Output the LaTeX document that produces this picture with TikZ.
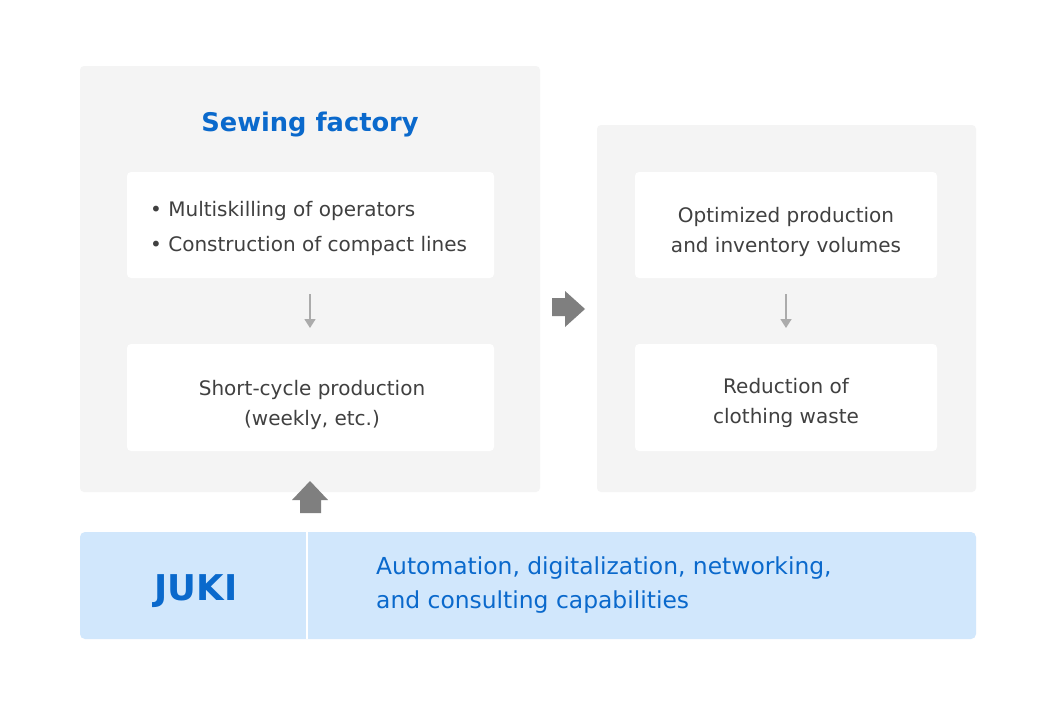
\documentclass[tikz,border=0pt]{standalone}
\usepackage{fontspec}
\setmainfont{DejaVu Sans}
\usetikzlibrary{arrows.meta}
\definecolor{panelgrey}{HTML}{F4F4F4}
\definecolor{txtgrey}{HTML}{404040}
\definecolor{jblue}{HTML}{0A69CC}
\definecolor{lblue}{HTML}{D1E7FC}
\definecolor{agrey}{HTML}{7F7F7F}
\definecolor{lgrey}{HTML}{ABABAB}
\begin{document}
\begin{tikzpicture}[x=1pt,y=-1pt,
  panel/.style={fill=panelgrey,rounded corners=4pt},
  wbox/.style={fill=white,rounded corners=4pt},
  body/.style={text=txtgrey,font=\fontsize{20}{30}\selectfont,align=center,anchor=base,inner sep=0pt},
  thinarr/.style={draw=lgrey,line width=1.6pt,-{Triangle[length=9pt,width=11pt]}},
]
\useasboundingbox (0,0) rectangle (1056,704);
\fill[white] (0,0) rectangle (1056,704);
% panels
\fill[panel] (80,66) rectangle (540,492);
\fill[panel] (597,125) rectangle (976,492);
% white boxes
\fill[wbox] (127,172) rectangle (494,278);
\fill[wbox] (127,344) rectangle (494,451);
\fill[wbox] (635,172) rectangle (937,278);
\fill[wbox] (635,344) rectangle (937,451);
% JUKI bar
\fill[lblue,rounded corners=5pt] (80,532) rectangle (976,639);
\draw[white,line width=2pt] (307,532) -- (307,639);
% texts
\node[text=jblue,font=\fontsize{25.7}{30}\selectfont\bfseries,anchor=base,inner sep=0pt] (title) at (310,131) {Sewing factory};
\node[body,anchor=base west,align=left] (b1) at (150,216) {\textbullet\ Multiskilling of operators};
\node[body,anchor=base west,align=left] (b2) at (150,251) {\textbullet\ Construction of compact lines};
\node[body] (short) at (312,425) {Short-cycle production\\(weekly, etc.)};
\node[body] (opt) at (786,252) {Optimized production\\and inventory volumes};
\node[body] (red) at (786,423) {Reduction of\\clothing waste};
\node[text=jblue,font=\fontsize{35.5}{36}\selectfont\bfseries,anchor=base,inner sep=0pt] (juki) at (196,600) {JUKI};
\node[text=jblue,font=\fontsize{23.4}{34}\selectfont,align=left,anchor=base west,inner sep=0pt] (auto) at (376,608) {Automation, digitalization, networking,\\and consulting capabilities};
% coordinates for arrows
\coordinate (d1s) at (310,294);
\coordinate (d1e) at (310,328);
\coordinate (d2s) at (786,294);
\coordinate (d2e) at (786,328);
\draw[thinarr] (d1s) -- (d1e);
\draw[thinarr] (d2s) -- (d2e);
% block arrow right
\fill[agrey] (552,298) -- (565,298) -- (565,291) -- (585,309) -- (565,327) -- (565,316) -- (552,316) -- cycle;
% block arrow up
\fill[agrey] (300,513) -- (300,500) -- (292,500) -- (310,481) -- (328,500) -- (321,500) -- (321,513) -- cycle;
\end{tikzpicture}
\end{document}
